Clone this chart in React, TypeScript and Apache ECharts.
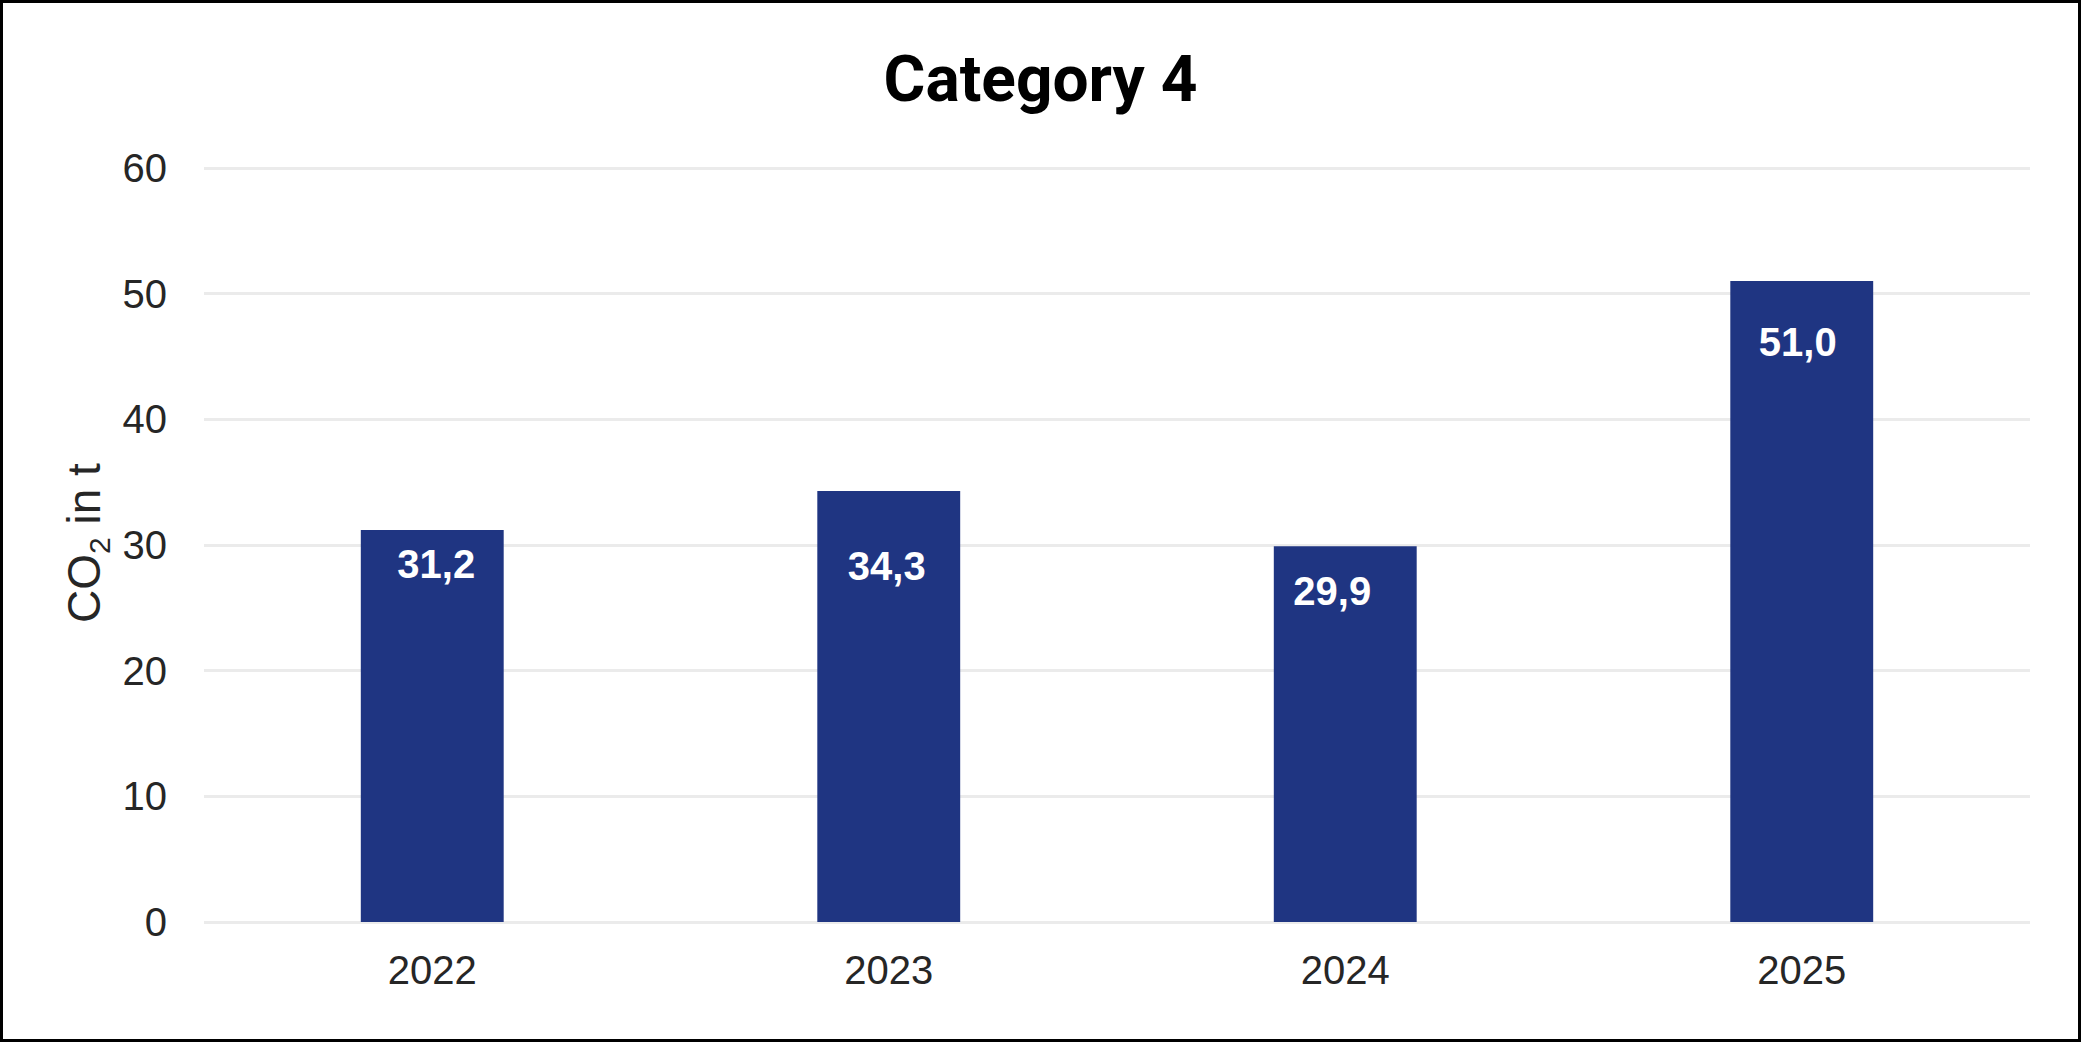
import React, { useEffect, useRef } from "react";
import * as echarts from "echarts";

// Annual CO2 emissions for category 4
const years = ["2022", "2023", "2024", "2025"];
const emissions = [31.2, 34.3, 29.9, 51.0];
const yTicks = { min: 0, max: 60, interval: 10 };

// Per-bar nudges of the value labels [dx, dy]
const labelNudges: [number, number][] = [
  [4, 14],
  [-2, 55],
  [-13, 25],
  [-4, 41],
];

const BAR_COLOR = "#1f3582";
const TEXT_FONT = "'Liberation Sans', Arial, sans-serif";

export default function App() {
  const ref = useRef<HTMLDivElement>(null);

  useEffect(() => {
    if (!ref.current) return;
    const chart = echarts.init(ref.current, undefined, { renderer: "svg" });

    chart.setOption({
      animation: false,
      backgroundColor: "#ffffff",
      title: {
        text: "Category 4",
        left: "center",
        top: 42,
        textStyle: {
          fontFamily: "Roboto, sans-serif",
          fontWeight: "bold",
          fontSize: 64,
          color: "#000000",
        },
      },
      grid: { left: 204, right: 51, top: 168, bottom: 120, containLabel: false },
      xAxis: {
        type: "category",
        data: years,
        axisLine: { show: false },
        axisTick: { show: false },
        axisLabel: {
          margin: 28,
          fontFamily: TEXT_FONT,
          fontSize: 40,
          color: "#262626",
        },
      },
      yAxis: {
        type: "value",
        min: yTicks.min,
        max: yTicks.max,
        interval: yTicks.interval,
        axisLine: { show: false },
        axisTick: { show: false },
        axisLabel: {
          margin: 37,
          fontFamily: TEXT_FONT,
          fontSize: 40,
          color: "#262626",
        },
        splitLine: { lineStyle: { color: "#ebebeb", width: 3 } },
      },
      series: [
        {
          type: "bar",
          barWidth: "31.3%",
          itemStyle: { color: BAR_COLOR },
          data: emissions.map((v, i) => ({
            value: v,
            label: {
              show: true,
              position: "insideTop",
              distance: 0,
              offset: labelNudges[i],
              formatter: () => v.toFixed(1).replace(".", ","),
              fontFamily: TEXT_FONT,
              fontWeight: "bold",
              fontSize: 40,
              color: "#ffffff",
            },
          })),
        },
      ],
      graphic: [
        {
          type: "text",
          x: 84,
          y: 543,
          rotation: Math.PI / 2,
          style: {
            text: "{a|CO}{b|2}{a| in t}",
            align: "center",
            verticalAlign: "middle",
            fill: "#262626",
            rich: {
              a: {
                fontFamily: TEXT_FONT,
                fontSize: 46,
                lineHeight: 60,
                verticalAlign: "middle",
                color: "#262626",
              },
              b: {
                fontFamily: TEXT_FONT,
                fontSize: 30,
                lineHeight: 60,
                verticalAlign: "bottom",
                color: "#262626",
              },
            },
          },
        },
        {
          type: "rect",
          shape: { x: 1.5, y: 1.5, width: 2078, height: 1039 },
          style: { fill: "none", stroke: "#000000", lineWidth: 3 },
          z: 100,
        },
      ],
    });

    return () => chart.dispose();
  }, []);

  return (
    <div
      ref={ref}
      style={{
        position: "fixed",
        left: 0,
        top: 0,
        width: 2081,
        height: 1042,
        background: "#ffffff",
      }}
    />
  );
}
